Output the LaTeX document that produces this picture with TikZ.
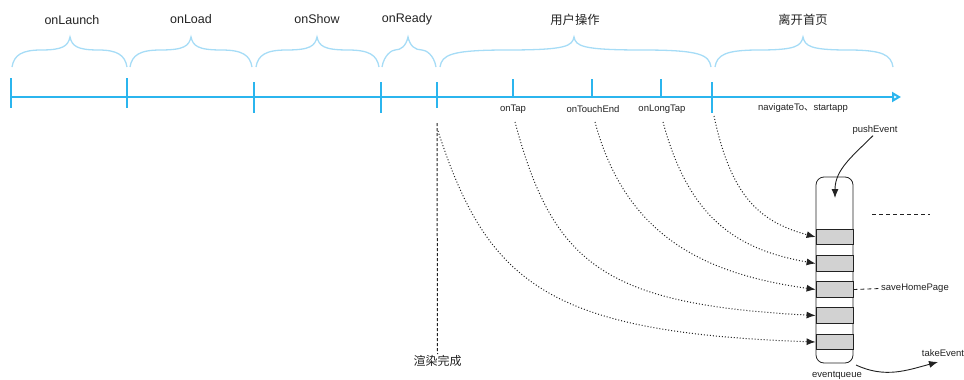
\documentclass[tikz,border=0pt]{standalone}
\usepackage{fontspec}
\setmainfont{Liberation Sans}
\newfontfamily\cjk{Noto Sans CJK SC}
\usetikzlibrary{arrows.meta}
\definecolor{tl}{HTML}{2BB5EE}
\definecolor{br}{HTML}{A6DCF6}
\definecolor{cellg}{HTML}{D2D2D2}
\definecolor{txt}{HTML}{222222}
\newcommand\mybrace[3]{%
 \draw[brace] (#1,67) .. controls ({#1+2},55) and ({#1+10},50) .. ({(#1+#2)/2},50)
   .. controls ({#2-7},50) and ({#2-2},46) .. (#2,37)
   .. controls ({#2+2},46) and ({#2+7},50) .. ({(#2+#3)/2},50)
   .. controls ({#3-10},50) and ({#3-2},55) .. (#3,67);}
\begin{document}
\begin{tikzpicture}[x=1pt,y=-1pt,
  brace/.style={draw=br,line width=1.3pt},
  axis/.style={draw=tl,line width=2pt},
  toplab/.style={text=txt,inner sep=1pt,font=\fontsize{12.5}{14}\selectfont},
  cjklab/.style={text=txt,inner sep=1pt,font=\cjk\fontsize{12.3}{14}\selectfont},
  smalllab/.style={text=txt,inner sep=1pt,font=\fontsize{9.5}{11}\selectfont},
  flow/.style={draw=txt,line width=1pt,dash pattern=on 1pt off 2pt,-{Latex[length=9pt,width=7pt]}},
  queue/.style={draw=txt,line width=0.8pt,rounded corners=8pt,minimum width=37pt,minimum height=186pt,inner sep=0pt},
  cellbox/.style={draw=txt,line width=0.8pt,fill=cellg,minimum width=37pt,minimum height=15.5pt,inner sep=0pt},
  dashline/.style={draw=txt,line width=0.8pt,dash pattern=on 4pt off 3pt},
  curvearrow/.style={draw=txt,line width=0.9pt,-{Latex[length=9pt,width=7pt]}}]
\useasboundingbox (0,0) rectangle (964,380);

% braces
\mybrace{12}{70}{127}
\mybrace{130}{191}{252}
\mybrace{256}{317}{379}
\mybrace{382}{408}{436}
\mybrace{440}{574}{711}
\mybrace{715}{803}{893}

% top labels
\node[toplab] (lLaunch) at (72,20) {onLaunch};
\node[toplab] (lLoad) at (191,19) {onLoad};
\node[toplab] (lShow) at (317,19) {onShow};
\node[toplab] (lReady) at (407,19) {onReady};
\node[cjklab] (lUser) at (575,20) {用户操作};
\node[cjklab] (lLeave) at (803,20) {离开首页};

% timeline
\coordinate (t0) at (11,97);
\coordinate (tend) at (901,97);
\draw[axis,-{Triangle[open,length=9pt,width=10pt,line width=2pt]}] (t0) -- (tend);
\foreach \x/\a/\b in {11/78/108,127/78/108,254/82/113,381/82/113,437/82/108,712/82/113}
  \draw[axis] (\x,\a) -- (\x,\b);
\foreach \x in {513,592,661}
  \draw[axis] (\x,79) -- (\x,97);

% small labels
\node[smalllab] (onTap) at (513,109) {onTap};
\node[smalllab] (onTouchEnd) at (593,109) {onTouchEnd};
\node[smalllab] (onLongTap) at (662,109) {onLongTap};
\node[smalllab] (nav) at (803,108) {navigateTo\cjk 、\rmfamily startapp};

% render line
\coordinate (r0) at (437,123);
\node[cjklab,font=\cjk\fontsize{12}{14}\selectfont] (render) at (437.5,361) {渲染完成};
\draw[draw=txt,line width=1pt,dash pattern=on 3pt off 2pt] (r0) -- (render.north);

% event queue
\node[queue] (q) at (834.5,270) {};
\node[cellbox] (c1) at (834.5,237) {};
\node[cellbox] (c2) at (834.5,263.5) {};
\node[cellbox] (c3) at (834.5,289.5) {};
\node[cellbox] (c4) at (834.5,315.5) {};
\node[cellbox] (c5) at (834.5,342) {};
\node[smalllab] (eq) at (837,375) {eventqueue};

% flows
\coordinate (s1) at (714,116);
\coordinate (s2) at (663,122);
\coordinate (s3) at (595,122);
\coordinate (s4) at (515,122);
\coordinate (s5) at (438,131);
\draw[flow] (s1) .. controls +(78:80) and +(195:60) .. (c1.west);
\draw[flow] (s2) .. controls +(75:100) and +(190:80) .. (c2.west);
\draw[flow] (s3) .. controls +(75:120) and +(188:110) .. (c3.west);
\draw[flow] (s4) .. controls +(75:146) and +(183:213) .. (c4.west);
\draw[flow] (s5) .. controls +(72:160) and +(182:268) .. (c5.west);

% push / take
\node[smalllab] (push) at (875,130) {pushEvent};
\coordinate (pushend) at (835,198);
\draw[curvearrow] ([xshift=-2pt]push.south) to[out=-135,in=90] (pushend);
\node[smalllab] (take) at (943,353) {takeEvent};
\coordinate (takestart) at (856,365);
\coordinate (takeend) at (938,362);
\draw[curvearrow] (takestart) to[out=-25,in=195] (takeend);

% right annotations
\coordinate (dl1) at (872,214);
\coordinate (dl2) at (930,214);
\draw[dashline] (dl1) -- (dl2);
\node[smalllab,anchor=west] (save) at (880,288.5) {saveHomePage};
\draw[dashline] (c3.east) -- (save.west);
\end{tikzpicture}
\end{document}
